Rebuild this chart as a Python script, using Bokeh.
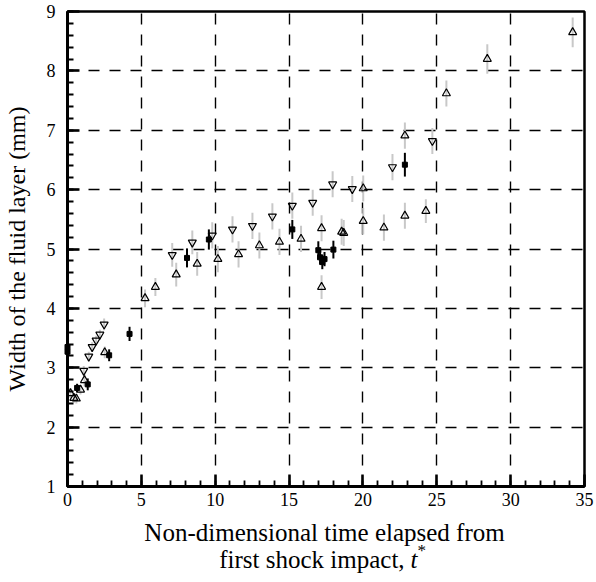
from bokeh.plotting import figure
from bokeh.models import Range1d, FixedTicker
from bokeh.layouts import column
from bokeh.core.properties import value
from bokeh.embed import file_html
from bokeh.resources import INLINE

# ---- data ----
up_t = [0.2, 0.43, 0.6, 0.88, 1.15, 2.52, 5.25, 5.95, 7.36, 8.78, 10.18, 11.58,
        12.99, 14.35, 15.81, 17.2, 17.2, 18.56, 18.7, 20.02, 20.02, 21.42, 22.84,
        22.84, 24.26, 25.65, 28.42, 34.2]
up_w = [2.57, 2.49, 2.48, 2.63, 2.79, 3.26, 4.17, 4.36, 4.57, 4.75, 4.83, 4.91,
        5.06, 5.12, 5.17, 5.35, 4.36, 5.29, 5.27, 6.02, 5.47, 5.36, 6.91,
        5.56, 5.64, 7.62, 8.20, 8.65]
up_err = [0.08, 0.08, 0.08, 0.08, 0.1, 0.1, 0.15, 0.15, 0.2, 0.2, 0.22, 0.22,
          0.22, 0.22, 0.22, 0.22, 0.2, 0.22, 0.22, 0.22, 0.22, 0.22, 0.22,
          0.22, 0.2, 0.22, 0.25, 0.25]

down_t = [1.1, 1.44, 1.67, 1.94, 2.19, 2.48, 7.09, 8.45, 9.8, 11.17, 12.52,
          13.87, 15.22, 16.6, 17.95, 19.28, 22.0, 24.7]
down_w = [2.95, 3.19, 3.35, 3.46, 3.56, 3.73, 4.90, 5.11, 5.23, 5.33, 5.39,
          5.55, 5.73, 5.78, 6.09, 6.01, 6.38, 6.82]
down_err = [0.08, 0.08, 0.08, 0.08, 0.08, 0.1, 0.2, 0.2, 0.22, 0.22, 0.22,
            0.22, 0.22, 0.22, 0.22, 0.22, 0.22, 0.22]

sq_t = [0.0, 0.0, 0.65, 1.37, 2.82, 4.2, 8.09, 9.57, 15.22, 16.98, 17.1,
        17.25, 17.4, 18.0, 22.84]
sq_w = [3.35, 3.27, 2.66, 2.72, 3.21, 3.57, 4.85, 5.16, 5.33, 4.98, 4.86,
        4.78, 4.83, 4.99, 6.42]
sq_err = [0.05, 0.05, 0.07, 0.1, 0.1, 0.12, 0.16, 0.17, 0.16, 0.15, 0.12,
          0.12, 0.12, 0.15, 0.2]

x_ticks = [0, 5, 10, 15, 20, 25, 30, 35]
y_ticks = [1, 2, 3, 4, 5, 6, 7, 8, 9]

x_title_1 = "Non-dimensional time elapsed from"
x_title_2 = "first shock impact, "
x_title_sym = "t"
x_title_sup = "*"

FONT = "'Liberation Serif'"

p = figure(width=596, height=513, output_backend="svg", toolbar_location=None,
           x_range=Range1d(0, 35), y_range=Range1d(1, 9),
           min_border_left=66, min_border_right=12, min_border_top=11,
           min_border_bottom=27)
p.background_fill_color = "white"
p.border_fill_color = "white"
p.outline_line_color = "black"
p.outline_line_width = 2.5

# grid
for g, ticks in ((p.xgrid, x_ticks), (p.ygrid, y_ticks)):
    g.ticker = FixedTicker(ticks=ticks)
    g.grid_line_color = "black"
    g.grid_line_dash = "11 10"
    g.grid_line_width = 1.4

# axes
p.xaxis.ticker = FixedTicker(ticks=x_ticks, minor_ticks=list(range(0, 36)))
p.yaxis.ticker = FixedTicker(ticks=y_ticks,
                             minor_ticks=[1 + 0.2 * i for i in range(41)])
for ax in (p.xaxis[0], p.yaxis[0]):
    ax.axis_line_width = 3
    ax.axis_line_color = "black"
    ax.major_tick_in = 12
    ax.major_tick_out = 0
    ax.minor_tick_in = 6
    ax.minor_tick_out = 0
    ax.major_tick_line_width = 2.5
    ax.minor_tick_line_width = 1.8
    ax.major_tick_line_color = "black"
    ax.minor_tick_line_color = "black"
    ax.major_label_text_font = FONT
    ax.major_label_text_font_size = "18px"
    ax.major_label_text_color = "black"
p.xaxis.major_label_standoff = 6
p.yaxis.major_label_standoff = 12

p.yaxis.axis_label = "Width of the fluid layer (mm)"
p.yaxis.axis_label_text_font = FONT
p.yaxis.axis_label_text_font_size = "24px"
p.yaxis.axis_label_text_font_style = "normal"
p.yaxis.axis_label_text_color = "black"
p.yaxis.axis_label_standoff = 14

# error bars
p.segment(x0=up_t, x1=up_t, y0=[w - e for w, e in zip(up_w, up_err)],
          y1=[w + e for w, e in zip(up_w, up_err)], line_color="#c8c8c8", line_width=2)
p.segment(x0=down_t, x1=down_t, y0=[w - e for w, e in zip(down_w, down_err)],
          y1=[w + e for w, e in zip(down_w, down_err)], line_color="#c8c8c8", line_width=2)
p.segment(x0=sq_t, x1=sq_t, y0=[w - e for w, e in zip(sq_w, sq_err)],
          y1=[w + e for w, e in zip(sq_w, sq_err)], line_color="black", line_width=2,
          level="overlay")

# markers
p.scatter(up_t, up_w, marker="triangle", size=8, fill_color=None,
          line_color="black", line_width=1.2)
p.scatter(down_t, down_w, marker="inverted_triangle", size=8, fill_color=None,
          line_color="black", line_width=1.2)
p.scatter(sq_t, sq_w, marker="square", size=5, fill_color="black",
          line_color="black", level="overlay")

# x-axis title as a text strip below (italic t with superscript *);
# shares the x range of the main plot so it lines up with its frame
t = figure(width=596, height=69, output_backend="svg", toolbar_location=None,
           title=None, x_range=p.x_range, y_range=Range1d(0, 69),
           min_border_left=66, min_border_right=12, min_border_top=0,
           min_border_bottom=0, x_axis_type=None, y_axis_type=None)
t.outline_line_color = None
t.grid.visible = False
t.background_fill_color = "white"
t.border_fill_color = "white"
t.text(x=[17.4], y=[50], text=[x_title_1], text_font=value(FONT),
       text_font_size="25px", text_align="center", text_baseline="alphabetic",
       text_color="black")
t.text(x=[10.27], y=[23], text=[x_title_2], text_font=value(FONT),
       text_font_size="25px", text_align="left", text_baseline="alphabetic",
       text_color="black")
t.text(x=[23.22], y=[23], text=[x_title_sym], text_font=value(FONT),
       text_font_size="25px", text_font_style="italic", text_align="left",
       text_baseline="alphabetic", text_color="black")
t.text(x=[23.70], y=[32], text=[x_title_sup], text_font=value(FONT),
       text_font_size="17px", text_align="left", text_baseline="alphabetic",
       text_color="black")

layout = column(p, t, spacing=0)
open("out.html", "w").write(file_html(layout, INLINE))
